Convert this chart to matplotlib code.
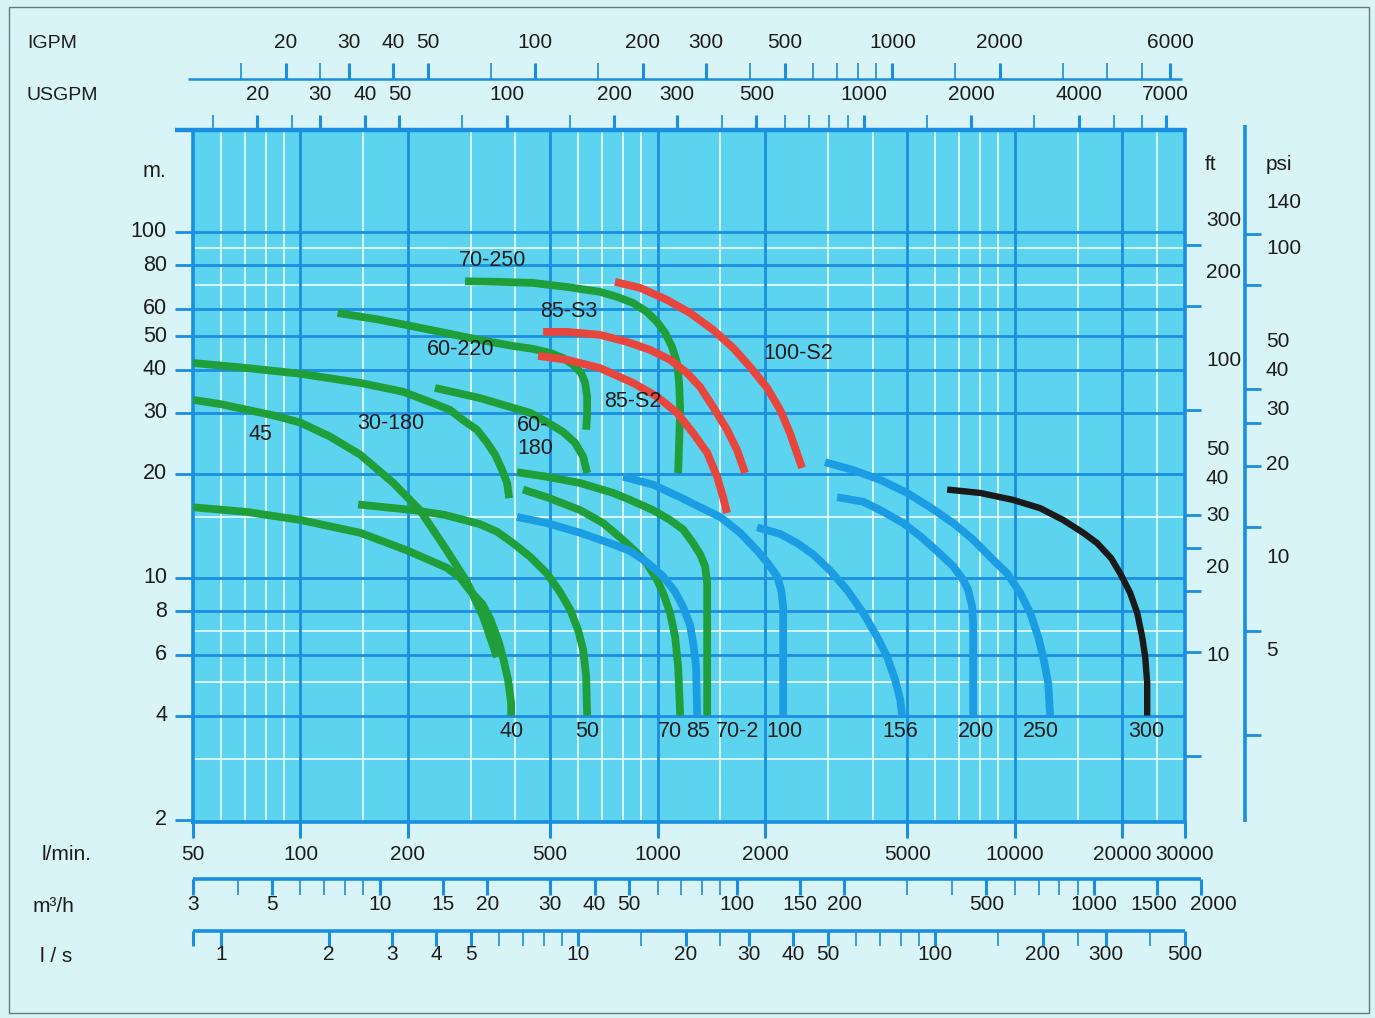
import matplotlib
matplotlib.use("Agg")
import matplotlib.pyplot as plt
from matplotlib.transforms import blended_transform_factory as blend, offset_copy
from matplotlib.lines import Line2D
from matplotlib.patches import Rectangle

plt.rcParams['font.family'] = ['Liberation Sans', 'DejaVu Sans']

# unit factors: flow -> l/min, head -> m
IGPM_LMIN = 4.54609
USGPM_LMIN = 3.78541
M3H_LMIN = 1000.0 / 60.0
LS_LMIN = 60.0
FT_M = 0.3048
PSI_M = 0.70307

# pump curves: flow in l/min, head in m
q_45 = [50, 59.5, 71, 85, 100, 121, 147, 182, 216, 257, 293, 325, 355]
h_45 = [32.7, 31.8, 30.6, 29.4, 28.1, 25.6, 22.7, 18.8, 15.7, 12.0, 9.7, 7.7, 5.9]

q_40 = [50, 71, 100, 147, 199, 257, 280, 298, 323, 340, 358, 369, 381, 389, 389]
h_40 = [16.0, 15.5, 14.7, 13.5, 12.0, 10.7, 10.0, 9.2, 8.4, 7.6, 6.6, 5.9, 5.1, 4.35, 4.0]

q_30_180 = [50, 71, 100, 147, 194, 235, 262, 285, 312, 333, 351, 367, 379, 384]
h_30_180 = [41.8, 40.4, 38.9, 36.6, 34.5, 32.0, 30.6, 28.6, 26.8, 24.6, 22.7, 20.5, 18.8, 17.0]

q_60_220 = [127, 167, 231, 318, 394, 448, 500, 544, 580, 611, 627, 635, 635, 631]
h_60_220 = [58.3, 55.7, 52.1, 48.7, 46.8, 45.9, 44.7, 43.2, 41.3, 39.1, 36.6, 33.4, 29.6, 26.8]

q_70_250 = [289, 362, 448, 558, 690, 770, 854, 934, 997, 1050, 1098, 1134, 1149, 1157, 1149, 1142]
h_70_250 = [72.0, 71.7, 71.2, 69.3, 67.1, 64.9, 62.3, 58.7, 54.9, 51.1, 46.5, 41.8, 36.6, 30.6, 24.6, 20.1]

q_60_180 = [238, 318, 394, 440, 490, 544, 587, 619, 635]
h_60_180 = [35.4, 33.1, 31.0, 30.0, 28.2, 26.4, 24.6, 22.4, 20.1]

q_85_s3 = [478, 558, 690, 821, 953, 1084, 1210, 1316, 1431, 1566, 1670, 1759]
h_85_s3 = [51.4, 51.4, 50.4, 48.1, 45.6, 42.7, 39.1, 35.6, 31.2, 26.8, 23.4, 20.1]

q_85_s2 = [463, 558, 690, 854, 997, 1134, 1258, 1377, 1468, 1526, 1566]
h_85_s2 = [43.8, 42.7, 40.4, 36.6, 33.4, 30.0, 26.2, 23.0, 19.6, 17.1, 15.4]

q_100_s2 = [760, 894, 1063, 1233, 1431, 1628, 1817, 2027, 2204, 2350, 2476, 2540]
h_100_s2 = [71.7, 68.9, 63.6, 58.3, 52.1, 46.2, 40.7, 35.4, 30.6, 26.2, 22.4, 20.8]

q_50 = [145, 207, 254, 318, 355, 394, 440, 490, 533, 569, 599, 619, 631, 635]
h_50 = [16.3, 15.7, 15.2, 14.3, 13.6, 12.6, 11.5, 10.3, 9.1, 8.1, 7.07, 6.2, 5.2, 4.0]

q_70 = [420, 490, 607, 704, 785, 876, 934, 997, 1036, 1084, 1120, 1142, 1157]
h_70 = [18.0, 17.1, 15.7, 14.4, 13.1, 11.8, 11.0, 9.87, 9.05, 7.92, 6.75, 5.53, 4.0]

q_70_2 = [404, 490, 607, 751, 838, 971, 1084, 1179, 1258, 1316, 1359, 1377, 1377, 1377]
h_70_2 = [20.2, 19.6, 18.8, 17.6, 16.8, 15.7, 14.7, 13.8, 12.6, 11.7, 10.8, 9.67, 7.7, 4.0]

q_85 = [404, 490, 607, 751, 838, 934, 1036, 1120, 1179, 1233, 1258, 1282, 1291]
h_85 = [15.0, 14.4, 13.5, 12.5, 11.95, 11.1, 10.1, 9.11, 8.24, 7.31, 6.49, 5.53, 4.0]

q_100 = [801, 971, 1157, 1316, 1497, 1703, 1900, 2040, 2162, 2219, 2248, 2248]
h_100 = [19.6, 18.6, 17.1, 16.0, 15.0, 13.5, 12.0, 11.0, 10.1, 9.23, 8.24, 4.0]

q_156 = [1900, 2204, 2460, 2727, 3042, 3395, 3765, 4121, 4395, 4628, 4782, 4842]
h_156 = [14.0, 13.4, 12.6, 11.7, 10.5, 9.23, 7.92, 6.75, 5.91, 5.07, 4.44, 4.0]

q_200 = [3183, 3765, 4202, 4873, 5437, 6067, 6729, 7177, 7413, 7604, 7652, 7652]
h_200 = [17.1, 16.6, 15.7, 14.4, 13.2, 11.95, 10.8, 9.87, 9.23, 8.24, 7.41, 4.0]

q_250 = [2946, 3530, 4202, 5000, 5800, 6729, 7652, 8542, 9530, 10365, 11057, 11640,
         12022, 12415, 12574]
h_250 = [21.6, 20.5, 19.2, 17.6, 16.0, 14.4, 12.9, 11.5, 10.3, 9.05, 7.92, 6.75,
         5.91, 4.97, 4.0]

q_300 = [6471, 8008, 9908, 11792, 13677, 15560, 17032, 18633, 19756, 21063, 22045,
         22764, 23208, 23510, 23510]
h_300 = [18.0, 17.6, 16.8, 15.9, 14.7, 13.5, 12.6, 11.4, 10.3, 9.05, 7.92,
         6.75, 5.91, 4.97, 4.0]

# curve name labels in the field (l/min, m)
field_labels = ["45", "30-180", "70-250", "85-S3", "60-220", "100-S2", "85-S2", "60-\n180"]
field_q = [77, 179, 346, 565, 280, 2476, 854, 454]
field_h = [25.9, 27.9, 82.5, 58.7, 45.6, 44.4, 32.3, 25.5]

# labels under the curve ends
end_labels = ["40", "50", "70", "85", "70-2", "100", "156", "200", "250", "300"]
end_q = [389, 635, 1084, 1299, 1670, 2262, 4782, 7806, 11866, 23361]
end_h = 3.59

# scales
lmin_labels = [50, 100, 200, 500, 1000, 2000, 5000, 10000, 20000, 30000]
x_major = [100, 200, 500, 1000, 2000, 5000, 10000, 20000]
x_minor = [60, 70, 80, 90, 150, 300, 400, 600, 700, 800, 900, 1500, 3000, 4000,
           6000, 7000, 8000, 9000, 15000, 25000]
m_ticks = [100, 80, 60, 50, 40, 30, 20, 10, 8, 6, 4, 2]
y_major = [4, 6, 8, 10, 20, 30, 40, 50, 60, 80, 100]
y_minor = [3, 5, 7, 15, 70, 90]
ft_ticks = [300, 200, 100, 50, 40, 30, 20, 10]
psi_ticks = [140, 100, 50, 40, 30, 20, 10, 5]

igpm_ticks = [15, 20, 25, 30, 40, 50, 75, 100, 150, 200, 300, 400, 500, 600, 700,
              800, 900, 1000, 1500, 2000, 3000, 4000, 5000, 6000]
igpm_labels = [20, 30, 40, 50, 100, 200, 300, 500, 1000, 2000, 6000]
usgpm_ticks = [15, 20, 25, 30, 40, 50, 75, 100, 150, 200, 300, 400, 500, 600, 700,
               800, 900, 1000, 1500, 2000, 3000, 4000, 5000, 6000, 7000]
usgpm_labels = [20, 30, 40, 50, 100, 200, 300, 500, 1000, 2000, 4000, 7000]
m3h_ticks = [3, 4, 5, 6, 7, 8, 9, 10, 15, 20, 30, 40, 50, 60, 70, 80, 90, 100, 150,
             200, 300, 400, 500, 600, 700, 800, 900, 1000, 1500, 2000]
m3h_labels = [3, 5, 10, 15, 20, 30, 40, 50, 100, 150, 200, 500, 1000, 1500, 2000]
ls_ticks = [1, 2, 3, 4, 5, 6, 7, 8, 9, 10, 15, 20, 25, 30, 40, 50, 60, 70, 80, 90,
            100, 150, 200, 250, 300, 400, 500]
ls_labels = [1, 2, 3, 4, 5, 10, 20, 30, 40, 50, 100, 200, 300, 500]

GREEN = '#1f9e3a'
RED = '#e8453c'
SKY = '#1c9de3'
BLACK = '#1a1a1a'
GRID = '#1a8ee0'
FACE = '#5cd4ef'
PAGE = '#d8f4f6'
INK = '#1c1c1c'

curves = [
    (q_45, h_45, GREEN), (q_40, h_40, GREEN), (q_30_180, h_30_180, GREEN),
    (q_60_220, h_60_220, GREEN), (q_70_250, h_70_250, GREEN), (q_60_180, h_60_180, GREEN),
    (q_50, h_50, GREEN), (q_70, h_70, GREEN), (q_70_2, h_70_2, GREEN),
    (q_85, h_85, SKY), (q_100, h_100, SKY), (q_156, h_156, SKY),
    (q_200, h_200, SKY), (q_250, h_250, SKY), (q_300, h_300, BLACK),
    (q_85_s3, h_85_s3, RED), (q_85_s2, h_85_s2, RED), (q_100_s2, h_100_s2, RED),
]

FW, FH = 1375, 1018
L, R, T, B = 193, 1185, 130, 822


def fx(px):
    return px / FW


def fy(py):
    return 1 - py / FH


fig = plt.figure(figsize=(FW / 100, FH / 100), dpi=100)
fig.patch.set_facecolor(PAGE)
rect = [fx(L), fy(B), fx(R) - fx(L), fy(T) - fy(B)]
ax = fig.add_axes(rect)
ax.set_xscale('log')
ax.set_yscale('log')
ax.set_xlim(50, 30000)
ax.set_ylim(1.97, 197)
ax.set_autoscale_on(False)
ax.set_facecolor(FACE)
ax.set_xticks([])
ax.set_yticks([])
ax.minorticks_off()
for s in ax.spines.values():
    s.set_color(GRID)
    s.set_linewidth(2.6)

for q in x_minor:
    ax.axvline(q, color='#eefbfd', lw=1.2, zorder=1)
for h in y_minor:
    ax.axhline(h, color='#eefbfd', lw=1.2, zorder=1)
for q in x_major:
    ax.axvline(q, color=GRID, lw=2.0, zorder=1.5)
for h in y_major:
    ax.axhline(h, color=GRID, lw=2.0, zorder=1.5)

for q, h, c in curves:
    ax.plot(q, h, color=c, lw=4.6 if c == BLACK else 5.6, solid_capstyle='butt',
            solid_joinstyle='round', zorder=3)

for s, q, h in zip(field_labels, field_q, field_h):
    ax.text(q, h, s, ha='center', va='center', fontsize=15.5, color=INK,
            multialignment='left', linespacing=1.1, zorder=4)
for s, q in zip(end_labels, end_q):
    ax.text(q, end_h, s, ha='center', va='center', fontsize=15.5, color=INK, zorder=4)

tr_flow = blend(ax.transData, fig.transFigure)
tr_head = blend(fig.transFigure, ax.transData)


def seg(xs, ys, tr, lw, color=GRID):
    fig.add_artist(Line2D(xs, ys, transform=tr, color=color, lw=lw,
                          solid_capstyle='butt'))


def flow_scale(ticks, labels, factor, y0, y1, ytext, nudge=None):
    nudge = nudge or {}
    for v in ticks:
        seg([v * factor] * 2, [fy(y0), fy(y1)], tr_flow, 2.2 if v in labels else 1.2)
    for v in labels:
        tr = offset_copy(tr_flow, fig=fig, x=nudge.get(v, 0), units='dots')
        fig.text(v * factor, fy(ytext), str(v), transform=tr, ha='center',
                 va='center', fontsize=15, color=INK)


# top scales
seg([fx(188), fx(1182)], [fy(79), fy(79)], fig.transFigure, 1.8)
flow_scale(igpm_ticks, igpm_labels, IGPM_LMIN, 79, 63, 42)
seg([fx(175), fx(R)], [fy(T), fy(T)], fig.transFigure, 3.2)
flow_scale(usgpm_ticks, usgpm_labels, USGPM_LMIN, T, 115, 95)

# bottom scales
flow_scale(lmin_labels, lmin_labels, 1.0, B, 838, 854)
seg([50, 2000 * M3H_LMIN], [fy(879), fy(879)], tr_flow, 2.6)
flow_scale(m3h_ticks, m3h_labels, M3H_LMIN, 879, 895, 905, nudge={1500: -3, 2000: 12})
seg([50, 500 * LS_LMIN], [fy(931), fy(931)], tr_flow, 2.6)
seg([50, 50], [fy(931), fy(946)], tr_flow, 2.2)
flow_scale(ls_ticks, ls_labels, LS_LMIN, 931, 946, 955)

# left head scale (m)
for v in m_ticks:
    seg([fx(175), fx(L)], [v, v], tr_head, 2.0)
    fig.text(fx(167), v, str(v), transform=tr_head, ha='right', va='center',
             fontsize=15.5, color=INK)
fig.text(fx(155), fy(172), "m.", ha='center', va='center', fontsize=15.5, color=INK)

# right scales: ticks sit on the true scale, labels were printed on a tighter one
for v in ft_ticks:
    seg([fx(R), fx(1201)], [v * FT_M, v * FT_M], tr_head, 2.0)
for v in psi_ticks:
    seg([fx(1245), fx(1261)], [v * PSI_M, v * PSI_M], tr_head, 2.0)
seg([fx(1245), fx(1245)], [fy(125), fy(B)], fig.transFigure, 2.6)

ax_ft = fig.add_axes(rect, label='ft labels')
ax_ft.set_yscale('log')
ax_ft.set_ylim(2.737, 606.7)
ax_ft.axis('off')
tr_ft = blend(fig.transFigure, ax_ft.transData)
for v in ft_ticks:
    fig.text(fx(1206), v, str(v), transform=tr_ft, ha='left', va='center',
             fontsize=15, color=INK)

ax_psi = fig.add_axes(rect, label='psi labels')
ax_psi.set_yscale('log')
ax_psi.set_ylim(1.388, 241)
ax_psi.axis('off')
tr_psi = blend(fig.transFigure, ax_psi.transData)
for v in psi_ticks:
    fig.text(fx(1266), v, str(v), transform=tr_psi, ha='left', va='center',
             fontsize=15, color=INK)
fig.text(fx(1205), fy(165), "ft", ha='left', va='center', fontsize=15, color=INK)
fig.text(fx(1266), fy(165), "psi", ha='left', va='center', fontsize=15, color=INK)

# unit names on the left
for s, px, py, fs in [("IGPM", 27, 43, 14), ("USGPM", 27, 96, 14),
                      ("l/min.", 42, 855, 15), ("m\u00b3/h", 33, 907, 15),
                      ("l / s", 40, 957, 15)]:
    fig.text(fx(px), fy(py), s, ha='left', va='center', fontsize=fs, color=INK)

# scanned page edge
fig.add_artist(Rectangle((fx(9), fy(1013)), fx(1369) - fx(9), fy(7) - fy(1013),
                         transform=fig.transFigure, fill=False, ec='#6a7a7c', lw=1.0))

fig.savefig('out.png', dpi=100, facecolor=fig.get_facecolor())
